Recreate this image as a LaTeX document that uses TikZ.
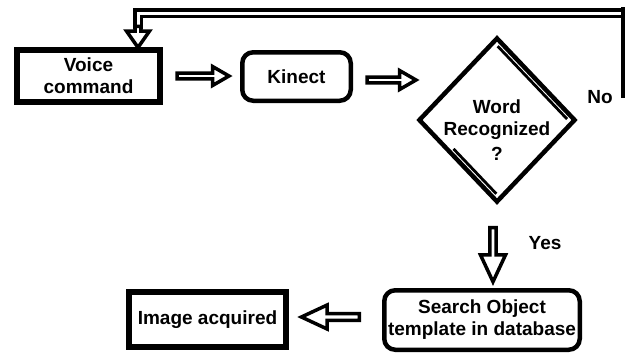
\documentclass[tikz,border=0pt]{standalone}
\usepackage{fontspec}
\setmainfont{Liberation Sans}
\usetikzlibrary{shapes.geometric,shapes.arrows,calc}
\begin{document}
\begin{tikzpicture}[x=1pt,y=-1pt,
  txt/.style={font=\fontsize{19}{22}\selectfont\bfseries, align=center},
  sqbox/.style={txt, draw, line width=6pt, inner sep=0},
  rndbox/.style={txt, draw, line width=4.5pt, rounded corners=11pt, inner sep=0},
  blockarrow/.style={single arrow, draw, line width=3.5pt, fill=white, inner sep=0, single arrow tip angle=60},
  lbl/.style={font=\fontsize{19}{22}\selectfont\bfseries}]
\useasboundingbox (0,0) rectangle (627,354);

% boxes
\node[sqbox, minimum width=143, minimum height=52] (voice) at (88.5,76) {Voice\\command};
\node[rndbox, minimum width=108.5, minimum height=48.5] (kinect) at (296.5,76.5) {Kinect};
\node[diamond, draw, line width=4.5pt, minimum width=157, minimum height=165, inner sep=0] (dec) at (497,120) {};
\node[txt] (dectext) at (497,130) {Word\\Recognized\\[3pt]?};
\node[rndbox, minimum width=195.5, minimum height=59.5] (search) at (482,320) {Search Object\\template in database};
\node[sqbox, minimum width=157, minimum height=55] (image) at (207.5,319.5) {Image acquired};

% double edges of the decision
\draw[line width=2.8pt] ($(dec.north)!0.07!(dec.east)+(-5,5)$) -- ($(dec.north)!0.93!(dec.east)+(-5,5)$);
\draw[line width=2.8pt] ($(dec.west)!0.4!(dec.south)+(5,-5)$) -- ($(dec.west)!0.93!(dec.south)+(5,-5)$);

% block arrows
\node[blockarrow, minimum height=52, minimum width=19, single arrow head extend=4] (a1) at (200.5,76) {};
\node[blockarrow, minimum height=49, minimum width=19, single arrow head extend=4] (a2) at (389,80) {};
\node[blockarrow, rotate=-90, minimum height=54, minimum width=25, single arrow head extend=5.5, single arrow tip angle=50] (a3) at (493,251.5) {};
\node[blockarrow, rotate=180, minimum height=58, minimum width=24, single arrow head extend=4.5, single arrow tip angle=50] (a4) at (334,317) {};

% feedback loop
\coordinate (fbtop) at (138,29);
\coordinate (fbright) at (621,13);
\coordinate (rtop) at (623,7);
\coordinate (rbot) at (623,98);
\draw[line width=3.5pt, double, double distance=3pt] (fbright) -| (fbtop);
\draw[line width=3.5pt] (rtop) -- (rbot);
\node[blockarrow, rotate=-90, minimum height=21, minimum width=23, single arrow head extend=5.5, single arrow tip angle=70] (a5) at (138,35) {};

% labels
\node[lbl] (no) at (600,97) {No};
\node[lbl] (yes) at (545,243) {Yes};
\end{tikzpicture}
\end{document}
